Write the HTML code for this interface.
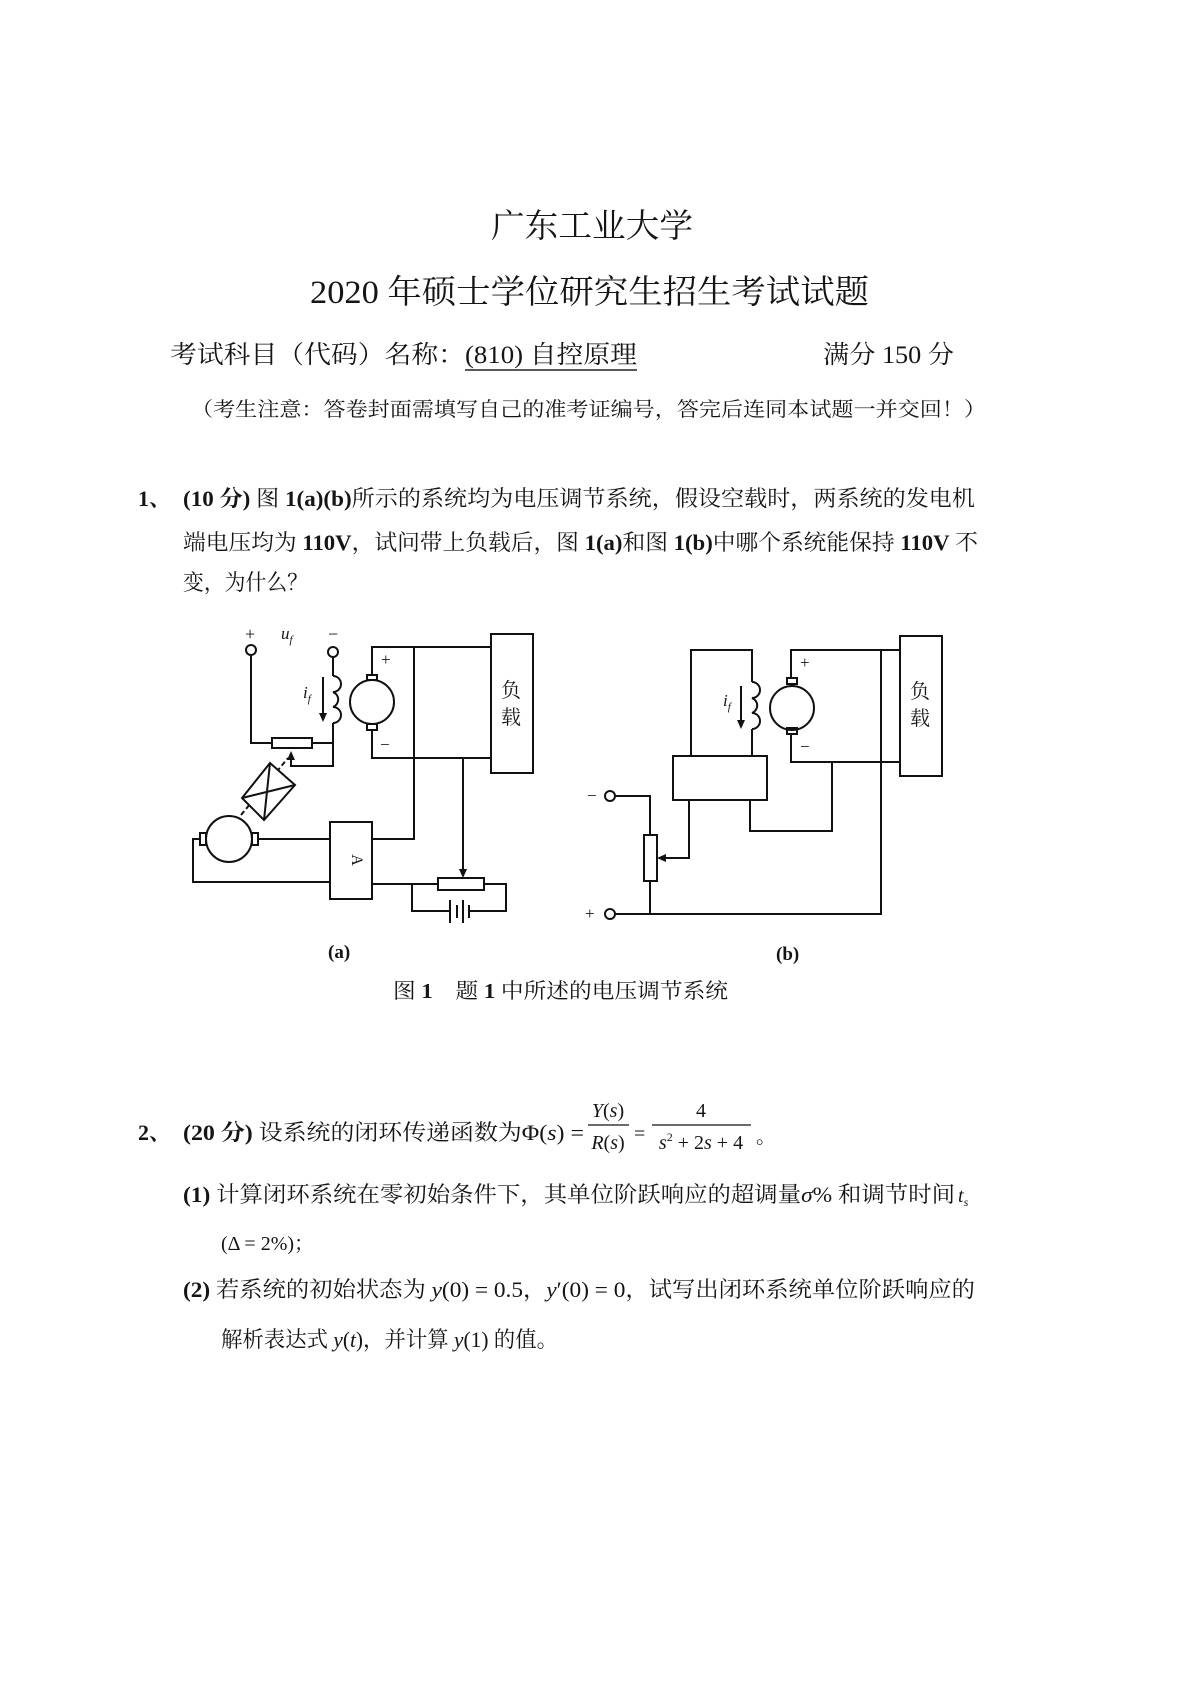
<!DOCTYPE html>
<html><head><meta charset="utf-8"><style>
html,body{margin:0;padding:0;background:#fff;}
svg{display:block;}
text{font-family:"Liberation Serif","Noto Serif CJK SC",serif;fill:#151515;}
.b{font-weight:bold;}
.i{font-style:italic;}
</style></head><body>
<svg width="1190" height="1683" viewBox="0 0 1190 1683" xmlns="http://www.w3.org/2000/svg">
<rect width="1190" height="1683" fill="#fff"/>
<!-- header -->
<text x="491" y="237" font-size="33" textLength="202" lengthAdjust="spacingAndGlyphs">广东工业大学</text>
<text x="310" y="303" font-size="33" textLength="559" lengthAdjust="spacingAndGlyphs">2020 年硕士学位研究生招生考试试题</text>
<text x="170" y="363" font-size="25" textLength="467" lengthAdjust="spacingAndGlyphs">考试科目（代码）名称：(810) 自控原理</text>
<line x1="465" y1="370" x2="637" y2="370" stroke="#222" stroke-width="1.5"/>
<text x="823" y="363" font-size="25" textLength="131" lengthAdjust="spacingAndGlyphs">满分 150 分</text>
<text x="191" y="416" font-size="20" textLength="795" lengthAdjust="spacingAndGlyphs">（考生注意：答卷封面需填写自己的准考证编号，答完后连同本试题一并交回！）</text>
<!-- Q1 -->
<text x="138" y="506" font-size="22" class="b">1、</text>
<text x="183" y="506" font-size="22" textLength="792" lengthAdjust="spacingAndGlyphs"><tspan class="b">(10 分)</tspan> 图 <tspan class="b">1(a)(b)</tspan>所示的系统均为电压调节系统，假设空载时，两系统的发电机</text>
<text x="183" y="550" font-size="22" textLength="795" lengthAdjust="spacingAndGlyphs">端电压均为 <tspan class="b">110V</tspan>，试问带上负载后，图 <tspan class="b">1(a)</tspan>和图 <tspan class="b">1(b)</tspan>中哪个系统能保持 <tspan class="b">110V</tspan> 不</text>
<text x="183" y="590" font-size="22" textLength="125" lengthAdjust="spacingAndGlyphs">变，为什么？</text>

<!-- Diagram (a) -->
<g stroke="#111" stroke-width="2" fill="none">
  <circle cx="251" cy="650" r="5"/>
  <circle cx="333" cy="652" r="5"/>
  <polyline points="251,655 251,743 272,743"/>
  <rect x="272" y="738" width="40" height="10"/>
  <polyline points="312,743 333,743 333,723"/>
  <line x1="333" y1="657" x2="333" y2="676"/>
  <path d="M333,676 a8,8 0 0 1 0,16 a8,8 0 0 1 0,15 a8,8 0 0 1 0,16"/>
  <line x1="323" y1="677" x2="323" y2="716"/>
  <polyline points="333,743 333,766 291,766 291,756"/>
  <circle cx="372" cy="702" r="22"/>
  <rect x="367" y="675" width="10" height="5"/>
  <rect x="367" y="724" width="10" height="6"/>
  <polyline points="372,675 372,647 491,647"/>
  <polyline points="372,730 372,758 491,758"/>
  <polyline points="414,647 414,839 372,839"/>
  <rect x="491" y="634" width="42" height="139"/>
  <line x1="463" y1="758" x2="463" y2="870"/>
  <rect x="438" y="878" width="46" height="12"/>
  <rect x="330" y="822" width="42" height="77"/>
  <polyline points="372,884 438,884"/>
  <polyline points="412,884 412,911 450,911"/>
  <polyline points="484,884 506,884 506,911 468,911"/>
  <circle cx="229" cy="839" r="23"/>
  <rect x="200" y="833" width="6" height="12"/>
  <rect x="252" y="833" width="6" height="12"/>
  <line x1="258" y1="839" x2="330" y2="839"/>
  <polyline points="200,839 193,839 193,882 330,882"/>
  <line x1="241" y1="815" x2="288" y2="758" stroke-dasharray="5,3"/>
  <polygon points="242,798 270,763 295,785 264,820" fill="#fff"/>
  <line x1="242" y1="798" x2="295" y2="785"/>
  <line x1="270" y1="763" x2="264" y2="820"/>
  <line x1="450" y1="900" x2="450" y2="923"/>
  <line x1="457" y1="905" x2="457" y2="918"/>
  <line x1="463" y1="900" x2="463" y2="923"/>
  <line x1="469" y1="905" x2="469" y2="918"/>
</g>
<polygon points="323,722 319,713 327,713" fill="#111"/>
<polygon points="291,751 287,760 295,760" fill="#111"/>
<polygon points="463,878 459,869 467,869" fill="#111"/>
<text x="245" y="640" font-size="18">+</text>
<text x="281" y="639" font-size="17" class="i">u<tspan font-size="11" dy="4">f</tspan></text>
<text x="328" y="640" font-size="18">−</text>
<text x="303" y="698" font-size="17" class="i">i<tspan font-size="11" dy="4">f</tspan></text>
<text x="381" y="665" font-size="17">+</text>
<text x="380" y="750" font-size="17">−</text>
<text x="501" y="697" font-size="20">负</text>
<text x="501" y="724" font-size="20">载</text>
<text x="352" y="860" font-size="16" transform="rotate(90 352 860)" text-anchor="middle">A</text>
<text x="328" y="958" font-size="19" class="b">(a)</text>

<!-- Diagram (b) -->
<g stroke="#111" stroke-width="2" fill="none">
  <rect x="900" y="636" width="42" height="140"/>
  <circle cx="792" cy="708" r="22"/>
  <rect x="787" y="678" width="10" height="6"/>
  <rect x="787" y="728" width="10" height="6"/>
  <polyline points="791,678 791,650 900,650"/>
  <polyline points="791,734 791,762 900,762"/>
  <polyline points="881,650 881,914 615,914"/>
  <circle cx="610" cy="914" r="5"/>
  <circle cx="610" cy="796" r="5"/>
  <polyline points="752,682 752,650 691,650 691,756"/>
  <path d="M752,682 a8,8 0 0 1 0,16 a8,8 0 0 1 0,15 a8,8 0 0 1 0,16"/>
  <line x1="752" y1="729" x2="752" y2="756"/>
  <line x1="741" y1="686" x2="741" y2="723"/>
  <rect x="673" y="756" width="94" height="44"/>
  <polyline points="750,800 750,831 832,831 832,762"/>
  <polyline points="689,800 689,858 662,858"/>
  <rect x="644" y="835" width="13" height="46"/>
  <polyline points="615,796 650,796 650,835"/>
  <line x1="650" y1="881" x2="650" y2="914"/>
</g>
<polygon points="741,729 737,720 745,720" fill="#111"/>
<polygon points="657,858 666,854 666,862" fill="#111"/>
<text x="800" y="668" font-size="17">+</text>
<text x="800" y="752" font-size="17">−</text>
<text x="723" y="706" font-size="17" class="i">i<tspan font-size="11" dy="4">f</tspan></text>
<text x="910" y="698" font-size="20">负</text>
<text x="910" y="725" font-size="20">载</text>
<text x="587" y="801" font-size="17">−</text>
<text x="585" y="919" font-size="17">+</text>
<text x="776" y="960" font-size="19" class="b">(b)</text>

<text x="393" y="998" font-size="21" textLength="335" lengthAdjust="spacingAndGlyphs">图 <tspan class="b">1</tspan>　题 <tspan class="b">1</tspan> 中所述的电压调节系统</text>

<!-- Q2 -->
<text x="138" y="1140" font-size="22" class="b">2、</text>
<text x="183" y="1140" font-size="22" textLength="401" lengthAdjust="spacingAndGlyphs"><tspan class="b">(20 分)</tspan> 设系统的闭环传递函数为Φ(<tspan class="i">s</tspan>) =</text>
<text x="608" y="1117" font-size="20" text-anchor="middle"><tspan class="i">Y</tspan>(<tspan class="i">s</tspan>)</text>
<line x1="588" y1="1125" x2="629" y2="1125" stroke="#111" stroke-width="1.3"/>
<text x="608" y="1149" font-size="20" text-anchor="middle"><tspan class="i">R</tspan>(<tspan class="i">s</tspan>)</text>
<text x="634" y="1140" font-size="20">=</text>
<text x="701" y="1117" font-size="20" text-anchor="middle">4</text>
<line x1="652" y1="1125" x2="751" y2="1125" stroke="#111" stroke-width="1.3"/>
<text x="701" y="1149" font-size="20" text-anchor="middle"><tspan class="i">s</tspan><tspan font-size="12" dy="-8">2</tspan><tspan dy="8"> + 2</tspan><tspan class="i">s</tspan> + 4</text>
<text x="756" y="1143" font-size="20">。</text>

<text x="183" y="1202" font-size="22" textLength="772" lengthAdjust="spacingAndGlyphs"><tspan class="b">(1)</tspan> 计算闭环系统在零初始条件下，其单位阶跃响应的超调量<tspan class="i">σ</tspan>% 和调节时间</text>
<text x="958" y="1202" font-size="20" class="i">t<tspan font-size="12" dy="4">s</tspan></text>
<text x="221" y="1250" font-size="20">(Δ = 2%)；</text>
<text x="183" y="1297" font-size="22" textLength="792" lengthAdjust="spacingAndGlyphs"><tspan class="b">(2)</tspan> 若系统的初始状态为 <tspan class="i">y</tspan>(0) = 0.5，<tspan class="i">y</tspan>′(0) = 0，试写出闭环系统单位阶跃响应的</text>
<text x="221" y="1347" font-size="22" textLength="337" lengthAdjust="spacingAndGlyphs">解析表达式 <tspan class="i">y</tspan>(<tspan class="i">t</tspan>)，并计算 <tspan class="i">y</tspan>(1) 的值。</text>
</svg>
</body></html>
